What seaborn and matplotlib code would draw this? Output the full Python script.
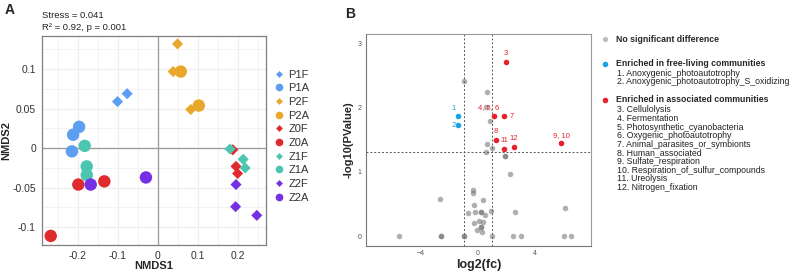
import numpy as np
import pandas as pd
import seaborn as sns
import matplotlib.pyplot as plt
from matplotlib.lines import Line2D

# ---- panel A : NMDS ----
groups = ["P1F", "P1A", "P2F", "P2A", "Z0F", "Z0A", "Z1F", "Z1A", "Z2F", "Z2A"]
colors = ["#5C9EF2", "#5C9EF2", "#E9A82C", "#E9A82C", "#DF2A2E", "#DF2A2E",
          "#4CC6B0", "#4CC6B0", "#7630E3", "#7630E3"]
nmds1 = {
    "P1F": [-0.100, -0.076],
    "P1A": [-0.196, -0.211, -0.214],
    "P2F": [0.050, 0.039, 0.083],
    "P2A": [0.058, 0.103],
    "Z0F": [0.188, 0.196, 0.200],
    "Z0A": [-0.198, -0.133, -0.267],
    "Z1F": [0.181, 0.214, 0.219],
    "Z1A": [-0.182, -0.177, -0.177],
    "Z2F": [0.196, 0.195, 0.248],
    "Z2A": [-0.167, -0.029],
}
nmds2 = {
    "P1F": [0.059, 0.069],
    "P1A": [0.027, 0.017, -0.004],
    "P2F": [0.132, 0.097, 0.049],
    "P2A": [0.097, 0.054],
    "Z0F": [-0.002, -0.023, -0.032],
    "Z0A": [-0.046, -0.042, -0.111],
    "Z1F": [-0.001, -0.014, -0.025],
    "Z1A": [0.003, -0.023, -0.034],
    "Z2F": [-0.046, -0.074, -0.085],
    "Z2A": [-0.046, -0.037],
}

# ---- panel B : volcano ----
ns_fc = [-0.96, 0.63, 0.58, 0.89, 0.63, 1.03, 0.56, 1.94, 1.94, 2.25,
         -0.35, -0.31, -2.65, 0.35, -0.28, 0.96, 0.23, 0.23, -0.17, -0.68,
         2.65, 0.54, 6.15, -0.28, 0.09, 0.40, 0.21, 0.21, -0.07, 0.30,
         -5.52, -2.61, -2.61, -0.99, -0.99, 1.03, 2.51, 3.03, 6.06, 6.55]
ns_p = [2.41, 2.24, 2.01, 1.79, 1.43, 1.37, 1.31, 1.24, 1.24, 0.97,
        0.72, 0.67, 0.57, 0.56, 0.49, 0.39, 0.38, 0.38, 0.37, 0.36,
        0.37, 0.32, 0.43, 0.21, 0.24, 0.22, 0.14, 0.14, 0.09, 0.07,
        0, 0, 0, 0, 0, 0, 0, 0, 0, 0]
free_fc = [-1.37, -1.37]
free_p = [1.86, 1.72]
free_lab = ["1", "2"]
assoc_fc = [1.99, 1.15, 1.83, 1.27, 1.88, 2.53, 5.87]
assoc_p = [2.71, 1.86, 1.86, 1.50, 1.36, 1.39, 1.44]
assoc_lab = ["3", "4, 5, 6", "7", "8", "11", "12", "9, 10"]

free_names = ["1. Anoxygenic_photoautotrophy",
              "2. Anoxygenic_photoautotrophy_S_oxidizing"]
assoc_names = ["3. Cellulolysis", "4. Fermentation", "5. Photosynthetic_cyanobacteria",
               "6. Oxygenic_photoautotrophy", "7. Animal_parasites_or_symbionts",
               "8. Human_associated", "9. Sulfate_respiration",
               "10. Respiration_of_sulfur_compounds", "11. Ureolysis",
               "12. Nitrogen_fixation"]

sns.set_style("white")
plt.rcParams["font.family"] = ["Liberation Sans", "DejaVu Sans"]

W, H = 795, 272
fig = plt.figure(figsize=(W / 100, H / 100), dpi=100)


def px_axes(l, t, r, b):
    return fig.add_axes([l / W, 1 - b / H, (r - l) / W, (b - t) / H])


# ================= A =================
axA = px_axes(41.5, 36, 266, 245)
rows = []
for g in groups:
    for x, y in zip(nmds1[g], nmds2[g]):
        rows.append({"NMDS1": x, "NMDS2": y, "group": g, "kind": g[-1]})
df = pd.DataFrame(rows)
pal = dict(zip(groups, colors))

for gx in np.arange(-0.25, 0.3, 0.05):
    axA.axvline(gx, color="#EEEEEE", lw=0.5 if round(gx * 20) % 2 else 0.9, zorder=0)
for gy in np.arange(-0.125, 0.15, 0.025):
    axA.axhline(gy, color="#EEEEEE", lw=0.5 if round(gy * 40) % 2 else 0.9, zorder=0)
axA.axvline(0, color="#9A9A9A", lw=0.9, zorder=1)
axA.axhline(0, color="#9A9A9A", lw=0.9, zorder=1)

sns.scatterplot(data=df[df.kind == "F"], x="NMDS1", y="NMDS2", hue="group",
                palette=pal, marker="D", s=32, linewidth=0, ax=axA, legend=False, zorder=3)
sns.scatterplot(data=df[df.kind == "A"], x="NMDS1", y="NMDS2", hue="group",
                palette=pal, marker="o", s=80, linewidth=0, ax=axA, legend=False, zorder=3)

axA.set_xlim(-0.29, 0.271)
axA.set_ylim(-0.1225, 0.142)
axA.set_xticks([-0.2, -0.1, 0, 0.1, 0.2])
axA.set_xticklabels(["-0.2", "-0.1", "0", "0.1", "0.2"])
axA.set_yticks([-0.1, -0.05, 0, 0.05, 0.1])
axA.set_yticklabels(["-0.1", "-0.05", "0", "0.05", "0.1"])
axA.tick_params(labelsize=7.5, colors="#333333", length=2.5, width=0.6, pad=1.5)
for sp in axA.spines.values():
    sp.set_color("#7F7F7F")
    sp.set_linewidth(0.9)
axA.set_xlabel("NMDS1", fontsize=8, fontweight="bold", labelpad=0)
axA.set_ylabel("NMDS2", fontsize=8, fontweight="bold", labelpad=1)

handles = [Line2D([], [], ls="none", marker="D" if g.endswith("F") else "o",
                  markersize=3.5 if g.endswith("F") else 5.5, color=c, markeredgewidth=0)
           for g, c in zip(groups, colors)]
axA.legend(handles, groups, loc="upper left", bbox_to_anchor=(1.02, 0.86),
           frameon=False, fontsize=8, handlelength=0.8, handletextpad=0.4,
           labelspacing=0.33, borderaxespad=0, labelcolor="#333333")

fig.text(5 / W, 1 - 10 / H, "A", fontsize=10, fontweight="bold", va="center")
fig.text(42 / W, 1 - 15 / H, "Stress = 0.041", fontsize=6.8, va="center", color="#222222")
fig.text(42 / W, 1 - 27 / H, "R\u00b2 = 0.92, p = 0.001", fontsize=6.8, va="center", color="#222222")

# ================= B =================
axB = px_axes(366, 34, 590.7, 246)
red = "#E8202A"
blue = "#1AA3E0"
axB.axvline(-1, color="#555555", ls=(0, (2, 2)), lw=0.7, zorder=1)
axB.axvline(1, color="#555555", ls=(0, (2, 2)), lw=0.7, zorder=1)
axB.axhline(-np.log10(0.05), color="#555555", ls=(0, (2, 2)), lw=0.7, zorder=1)

sns.scatterplot(x=ns_fc, y=ns_p, color="#6E6E6E", alpha=0.55, s=16, linewidth=0,
                ax=axB, zorder=2)
sns.scatterplot(x=free_fc, y=free_p, color=blue, s=16, linewidth=0, ax=axB, zorder=3)
sns.scatterplot(x=assoc_fc, y=assoc_p, color=red, s=16, linewidth=0, ax=axB, zorder=3)

free_off = [(-2, 3), (-2, 0)]
for x, y, t, o in zip(free_fc, free_p, free_lab, free_off):
    axB.annotate(t, (x, y), xytext=o, textcoords="offset points", color=blue,
                 fontsize=5.5, ha="right", va="bottom" if o[1] else "center")
assoc_off = [(0, 3), (-4, 4), (4, 0), (0, 3.5), (0, 3), (0, 3.5), (0, 3)]
for x, y, t, o in zip(assoc_fc, assoc_p, assoc_lab, assoc_off):
    ha = "left" if o[0] > 0 else "center"
    va = "center" if o[1] == 0 else "bottom"
    axB.annotate(t, (x, y), xytext=o, textcoords="offset points", color=red,
                 fontsize=5.5, ha=ha, va=va)

axB.set_xlim(-7.87, 7.96)
axB.set_ylim(-0.155, 3.14)
axB.set_xticks([-4, 0, 4])
axB.set_yticks([0, 1, 2, 3])
axB.tick_params(labelsize=5, colors="#555555", length=2, width=0.5, pad=1)
for sp in axB.spines.values():
    sp.set_color("#9A9A9A")
    sp.set_linewidth(0.8)
axB.spines["left"].set_color("#777777")
axB.spines["bottom"].set_color("#777777")
axB.set_xlabel("log2(fc)", fontsize=9, fontweight="bold", labelpad=1)
axB.set_ylabel("-log10(PValue)", fontsize=8, fontweight="bold", labelpad=3)
fig.text(345 / W, 1 - 14 / H, "B", fontsize=10, fontweight="bold", va="center")

# legend of B drawn in pixel coordinates
axL = px_axes(595, 0, 795, 272)
axL.set_xlim(595, 795)
axL.set_ylim(272, 0)
axL.axis("off")
axL.scatter([605], [39], s=14, color="#BDBDBD", linewidth=0)
axL.scatter([605], [64], s=16, color=blue, linewidth=0)
axL.scatter([605], [100], s=16, color=red, linewidth=0)
fs = 6.3
axL.text(616, 39, "No significant difference", fontsize=fs, fontweight="bold", va="center")
axL.text(616, 64, "Enriched in free-living communities", fontsize=fs, fontweight="bold", va="center")
for i, t in enumerate(free_names):
    axL.text(617, 73 + 9 * i, t, fontsize=fs, va="center", color="#222222")
axL.text(616, 100, "Enriched in associated communities", fontsize=fs, fontweight="bold", va="center")
for i, t in enumerate(assoc_names):
    axL.text(617, 110 + 8.6 * i, t, fontsize=fs, va="center", color="#222222")

fig.savefig("out.png", dpi=100)
